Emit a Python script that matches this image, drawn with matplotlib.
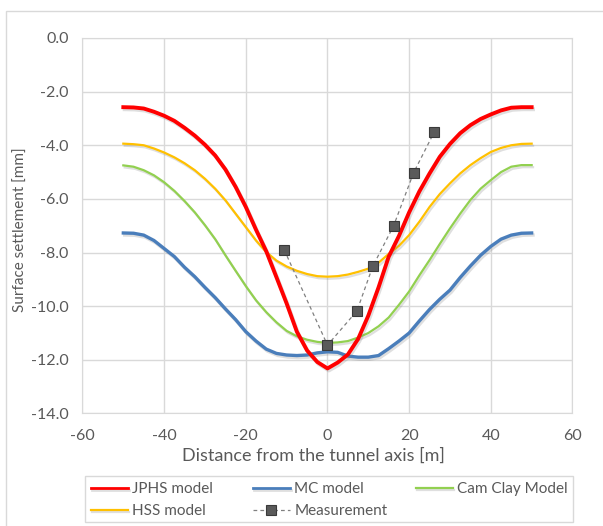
import numpy as np
import matplotlib
matplotlib.use("Agg")
import matplotlib.pyplot as plt
import matplotlib.patheffects as pe
from matplotlib.patches import Rectangle

# distance from tunnel axis [m]
x_model = [-50, -47.5, -45, -42.5, -40, -37.5, -35, -32.5, -30, -27.5, -25, -22.5, -20,
           -17.5, -15, -12.5, -10, -7.5, -5, -2.5, 0, 2.5, 5, 7.5, 10, 12.5, 15, 17.5,
           20, 22.5, 25, 27.5, 30, 32.5, 35, 37.5, 40, 42.5, 45, 47.5, 50]

# surface settlement [mm]
jphs = [-2.58, -2.59, -2.63, -2.75, -2.9, -3.09, -3.35, -3.64, -3.98, -4.38, -4.9, -5.55, -6.3,
        -7.15, -7.95, -8.92, -9.9, -10.95, -11.65, -12.08, -12.32, -12.1, -11.8, -11.22, -10.35,
        -9.3, -8.15, -7.38, -6.5, -5.72, -5.05, -4.43, -3.95, -3.55, -3.25, -3.02, -2.85,
        -2.7, -2.6, -2.58, -2.58]
mc = [-7.27, -7.28, -7.35, -7.55, -7.85, -8.15, -8.55, -8.9, -9.3, -9.68, -10.1, -10.5, -10.95,
      -11.3, -11.6, -11.76, -11.82, -11.84, -11.82, -11.74, -11.7, -11.72, -11.86, -11.9, -11.9,
      -11.84, -11.58, -11.3, -11.0, -10.55, -10.12, -9.74, -9.4, -8.93, -8.5, -8.1, -7.77,
      -7.5, -7.35, -7.28, -7.27]
camclay = [-4.75, -4.8, -4.93, -5.12, -5.38, -5.7, -6.08, -6.5, -6.98, -7.5, -8.1, -8.68, -9.25,
           -9.78, -10.22, -10.6, -10.92, -11.12, -11.25, -11.33, -11.37, -11.35, -11.3, -11.17,
           -11.0, -10.75, -10.42, -9.95, -9.45, -8.85, -8.28, -7.68, -7.1, -6.55, -6.04, -5.62,
           -5.3, -5.0, -4.8, -4.74, -4.74]
hss = [-3.94, -3.96, -4.0, -4.12, -4.27, -4.45, -4.67, -4.93, -5.25, -5.62, -6.05, -6.55, -7.05,
       -7.55, -7.98, -8.3, -8.52, -8.68, -8.8, -8.88, -8.9, -8.88, -8.82, -8.72, -8.6, -8.38,
       -8.05, -7.75, -7.35, -6.85, -6.3, -5.82, -5.42, -5.05, -4.74, -4.48, -4.25, -4.1,
       -4.0, -3.95, -3.94]

x_meas = [-10.6, 0, 7.2, 11.1, 16.2, 21.1, 26.1]
y_meas = [-7.9, -11.45, -10.18, -8.51, -7.0, -5.02, -3.52]

grey_txt = '#595959'
grid_col = '#d9d9d9'
plt.rcParams['font.family'] = ['Lato', 'DejaVu Sans']
plt.rcParams['axes.unicode_minus'] = False

fig = plt.figure(figsize=(6.03, 5.26), dpi=100)
ax = fig.add_axes([0.1368, 0.2139, 0.8126, 0.7139])

shadow = [pe.SimpleLineShadow(offset=(1, -1.5), shadow_color='#808080', alpha=0.25), pe.Normal()]

l_mc, = ax.plot(x_model, mc, color='#4a7ebb', lw=2.4, zorder=3, path_effects=shadow)
l_cc, = ax.plot(x_model, camclay, color='#92d050', lw=1.6, zorder=3, path_effects=shadow)
l_hss, = ax.plot(x_model, hss, color='#ffc000', lw=1.6, zorder=3, path_effects=shadow)
l_jp, = ax.plot(x_model, jphs, color='#ff0000', lw=2.8, zorder=4, path_effects=shadow)
l_me, = ax.plot(x_meas, y_meas, color='#808080', lw=0.9, ls=(0, (3, 2.5)), marker='s', ms=6.5,
                mfc='#5a5a5a', mec='#3a3a3a', mew=0.8, zorder=5)

ax.set_xlim(-60, 60)
ax.set_ylim(-14, 0)
ax.set_xticks(np.arange(-60, 61, 20))
ax.set_yticks(np.arange(-14, 0.1, 2))
ax.set_yticklabels([f'{v:.1f}' for v in np.arange(-14, 0.1, 2)])
ax.grid(True, color=grid_col, lw=1)
ax.set_axisbelow(True)
for s in ax.spines.values():
    s.set_color(grid_col)
ax.tick_params(length=0, labelsize=11.5, colors=grey_txt, pad=10)
ax.tick_params(axis='x', pad=11)
ax.set_xlabel('Distance from the tunnel axis [m]', fontsize=13, color=grey_txt, va='center')
ax.set_ylabel('Surface settlement [mm]', fontsize=11, color=grey_txt, va='center')
ax.xaxis.set_label_coords(0.472, -0.113)
ax.yaxis.set_label_coords(-0.1255, 0.49)

# legend: three columns, each its own legend, one frame round them
W, H = 603, 526
cols = [([l_jp, l_hss], ['JPHS model', 'HSS model'], 91),
        ([l_mc, l_me], ['MC model', 'Measurement'], 253),
        ([l_cc], ['Cam Clay Model'], 416)]
for hs, ls, xp in cols:
    lg = fig.legend(hs, ls, loc='upper left', bbox_to_anchor=(xp / W, (H - 482) / H),
                    frameon=False, fontsize=11, handlelength=2.4, handletextpad=0.3,
                    borderpad=0, borderaxespad=0, labelspacing=0.55, numpoints=1)
    for t in lg.get_texts():
        t.set_color(grey_txt)
    for ln in lg.get_lines():
        ln.set_linewidth(min(ln.get_linewidth(), 2.0))

fig.patches.append(Rectangle((85 / W, (H - 522) / H), 488 / W, 46 / H, transform=fig.transFigure,
                             fill=False, edgecolor=grid_col, lw=1))
fig.patches.append(Rectangle((6 / W, -0.02), 1.1, 1.01 - 6 / H, transform=fig.transFigure,
                             fill=False, edgecolor=grid_col, lw=1))

fig.savefig('out.png', dpi=100)
